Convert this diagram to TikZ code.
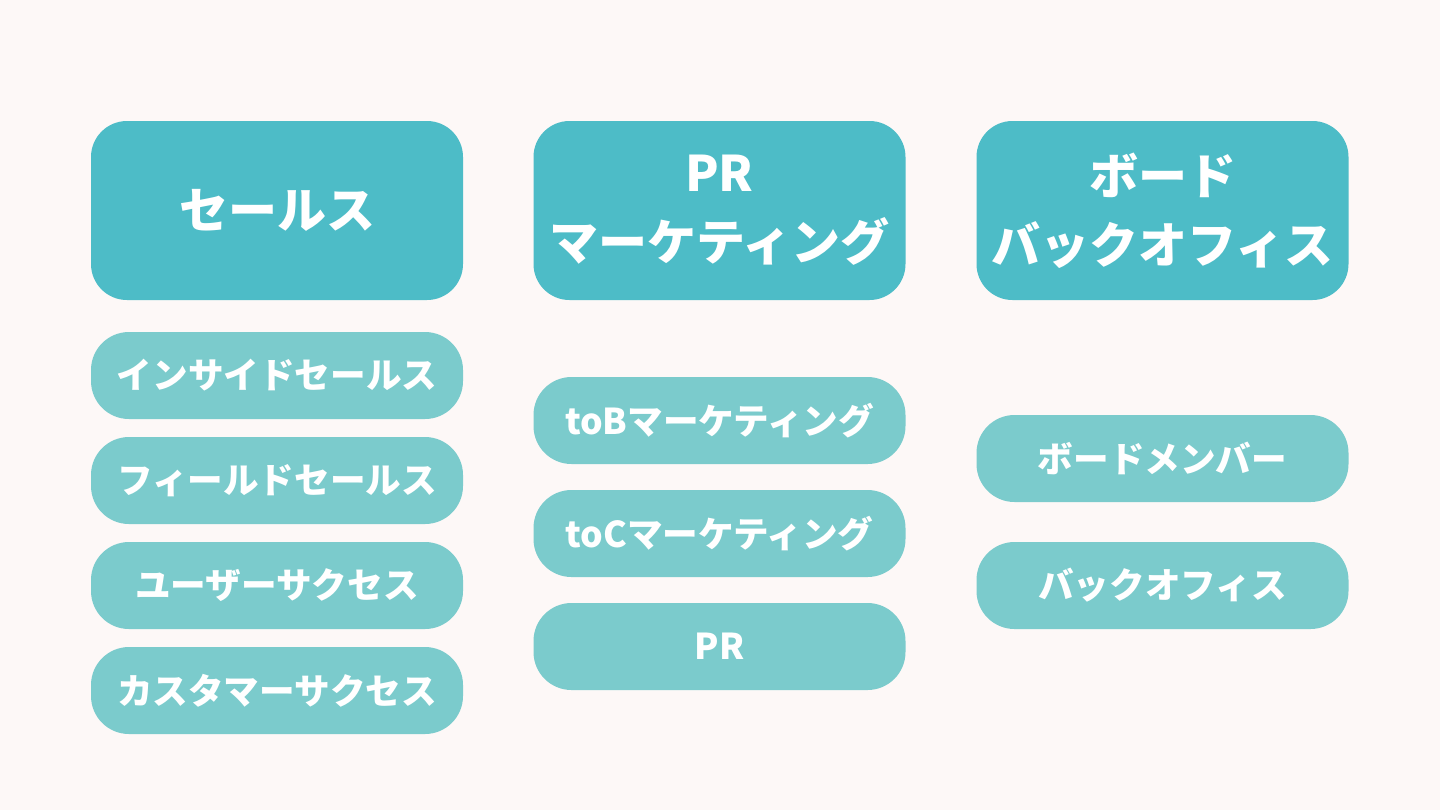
\documentclass[tikz,border=0pt]{standalone}
\usepackage{fontspec}
\newfontfamily\jpfont{Noto Sans CJK JP}
\usetikzlibrary{positioning}
\definecolor{bgpink}{HTML}{FDF8F7}
\definecolor{headteal}{HTML}{4DBCC7}
\definecolor{subteal}{HTML}{7BCBCC}

\begin{document}
\begin{tikzpicture}[
    x=0.5pt, y=-0.5pt,
    head/.style={fill=headteal, rounded corners=18pt, minimum width=186pt, minimum height=89.5pt,
      align=center, text=white, font=\jpfont\bfseries\fontsize{24.5}{34.5}\selectfont, inner sep=0pt},
    sub/.style={fill=subteal, rounded corners=19pt, minimum width=186pt, minimum height=43.5pt,
      align=center, text=white, font=\jpfont\bfseries\fontsize{17.8}{20}\selectfont, inner sep=0pt}
]
\fill[bgpink] (0,0) rectangle (1440,810);
\useasboundingbox (0,0) rectangle (1440,810);
% headers
\node[head] (sales) at (277,210.5) {セールス};
\node[head] (mkt) at (719.5,210.5) {PR\\マーケティング};
\node[head] (board) at (1162.5,210.5) {ボード\\バックオフィス};
% sales column
\node[sub] (inside) at (277,375.5) {インサイドセールス};
\node[sub] (field) at (277,480.5) {フィールドセールス};
\node[sub] (usersuc) at (277,585.5) {ユーザーサクセス};
\node[sub] (custsuc) at (277,690.5) {カスタマーサクセス};
% marketing column
\node[sub] (tob) at (719.5,420.5) {toBマーケティング};
\node[sub] (toc) at (719.5,533.5) {toCマーケティング};
\node[sub] (pr) at (719.5,646.5) {PR};
% board column
\node[sub] (member) at (1162.5,458.5) {ボードメンバー};
\node[sub] (backoff) at (1162.5,585.5) {バックオフィス};
\end{tikzpicture}
\end{document}
